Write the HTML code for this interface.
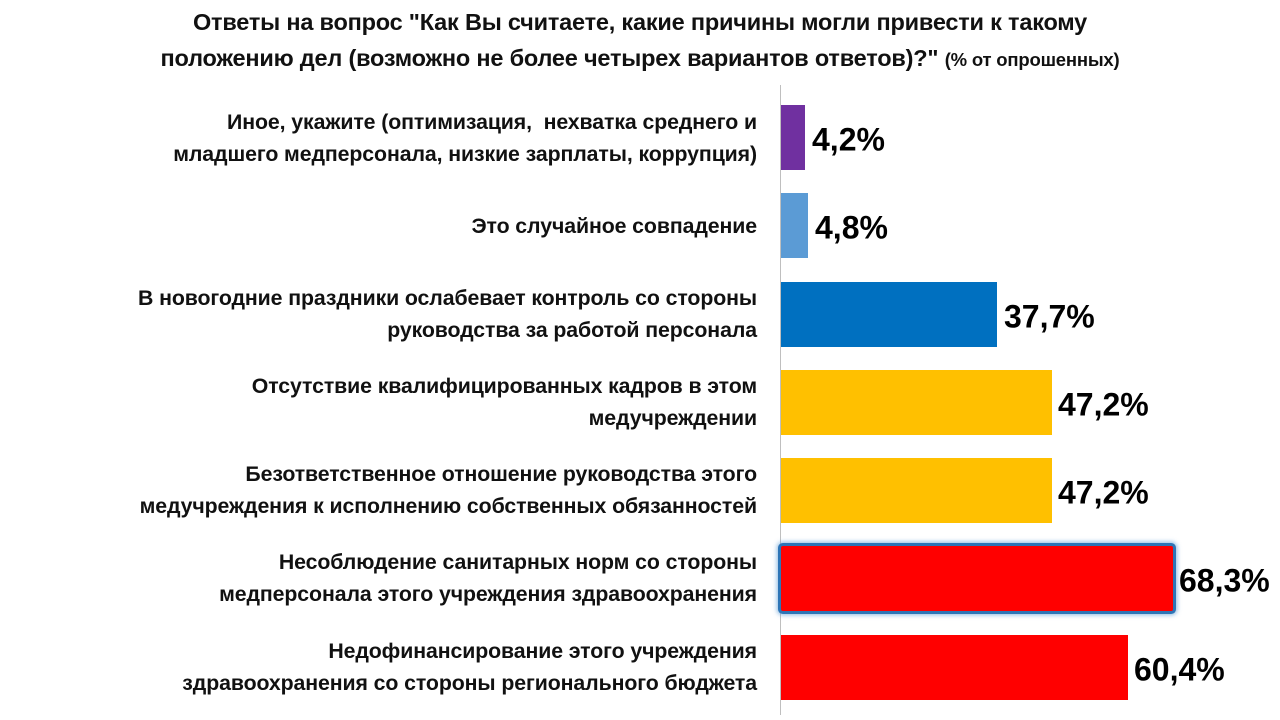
<!DOCTYPE html>
<html><head><meta charset="utf-8"><style>
body{margin:0;width:1280px;height:720px;background:#fff;font-family:"Liberation Sans","DejaVu Sans",sans-serif;position:relative;overflow:hidden}
.t{position:absolute;left:0;width:1280px;text-align:center;font-weight:bold;font-size:23.5px;color:#111;line-height:36px;top:4px;letter-spacing:-0.2px}
.t span{font-size:18.5px}
.ax{position:absolute;left:780px;top:85px;width:1px;height:630px;background:#bfbfbf}
.l{position:absolute;right:523px;text-align:right;font-weight:bold;font-size:21.3px;color:#111;line-height:32px;width:760px;transform:translateY(-50%);letter-spacing:-0.1px}
.b{position:absolute;left:781px;height:65px}
.v{position:absolute;font-weight:bold;font-size:32px;color:#000;transform:translateY(-50%)}
</style></head><body>
<div class="t">Ответы на вопрос "Как Вы считаете, какие причины могли привести к такому<br>положению дел (возможно не более четырех вариантов ответов)?" <span>(% от опрошенных)</span></div>
<div class="ax"></div>

<div class="l" style="top:138px">Иное, укажите (оптимизация,&nbsp; нехватка среднего и<br>младшего медперсонала, низкие зарплаты, коррупция)</div>
<div class="b" style="top:105px;width:24px;background:#7030a0"></div>
<div class="v" style="left:812px;top:140px">4,2%</div>

<div class="l" style="top:226px">Это случайное совпадение</div>
<div class="b" style="top:193px;width:27px;background:#5b9bd5"></div>
<div class="v" style="left:815px;top:228px">4,8%</div>

<div class="l" style="top:314px">В новогодние праздники ослабевает контроль со стороны<br>руководства за работой персонала</div>
<div class="b" style="top:282px;width:216px;background:#0070c0"></div>
<div class="v" style="left:1004px;top:317px">37,7%</div>

<div class="l" style="top:402px">Отсутствие квалифицированных кадров в этом<br>медучреждении</div>
<div class="b" style="top:370px;width:271px;background:#ffc000"></div>
<div class="v" style="left:1058px;top:405px">47,2%</div>

<div class="l" style="top:490px">Безответственное отношение руководства этого<br>медучреждения к исполнению собственных обязанностей</div>
<div class="b" style="top:458px;width:271px;background:#ffc000"></div>
<div class="v" style="left:1058px;top:493px">47,2%</div>

<div class="l" style="top:578px">Несоблюдение санитарных норм со стороны<br>медперсонала этого учреждения здравоохранения</div>
<div class="b" style="top:546px;width:392px;background:#ff0000;box-shadow:0 0 0 3px #2e75b6,0 0 5px 4px rgba(91,155,213,.7);border-radius:2px"></div>
<div class="v" style="left:1179px;top:581px">68,3%</div>

<div class="l" style="top:667px">Недофинансирование этого учреждения<br>здравоохранения со стороны регионального бюджета</div>
<div class="b" style="top:635px;width:347px;background:#ff0000"></div>
<div class="v" style="left:1134px;top:670px">60,4%</div>
</body></html>
